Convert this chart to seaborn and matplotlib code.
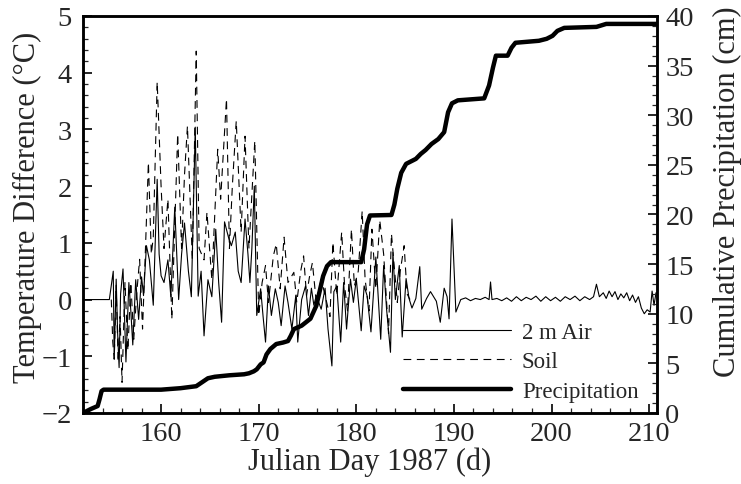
import numpy as np
import pandas as pd
import matplotlib
matplotlib.use('Agg')
import matplotlib.pyplot as plt
from matplotlib.ticker import MultipleLocator
import seaborn as sns


# 2 m air temperature difference (day, deg C)
air_day = [152.0, 154.7, 155.1, 155.2, 155.4, 155.55, 155.7, 155.85, 156.1, 156.4,
           156.7, 156.9, 157.1, 157.4, 157.7, 158.0, 158.2, 158.5, 158.8, 159.2,
           159.6, 159.8, 160.0, 160.3, 160.7, 161.0, 161.4, 161.8, 162.1, 162.4,
           162.8, 163.1, 163.5, 163.8, 164.1, 164.4, 164.8, 165.2, 165.6, 165.9,
           166.2, 166.5, 166.9, 167.2, 167.6, 167.9, 168.2, 168.6, 168.9, 169.1,
           169.3, 169.55, 169.8, 170.2, 170.45, 170.7, 171.0, 171.3, 171.7, 172.0,
           172.3, 172.7, 173.0, 173.4, 173.8, 174.0, 174.4, 174.8, 175.1, 175.4,
           175.65, 175.9, 176.4, 176.8, 177.1, 177.5, 177.7, 178.0, 178.4, 178.7,
           179.0, 179.4, 179.7, 180.0, 180.5, 180.8, 181.1, 181.5, 182.0, 182.5,
           182.8, 183.1, 183.5, 183.75, 184.0, 184.4, 184.7, 185.1, 185.4, 185.7,
           186.1, 186.5, 186.7, 187.2, 187.6, 188.2, 188.6, 189.0, 189.3, 189.5,
           189.8, 190.2, 190.7, 191.2, 191.7, 192.2, 192.7, 193.2, 193.6, 193.75,
           193.9, 194.4, 194.9, 195.4, 195.9, 196.4, 196.9, 197.4, 197.9, 198.4,
           198.9, 199.4, 199.9, 200.4, 200.9, 201.4, 201.9, 202.4, 202.9, 203.4,
           203.9, 204.3, 204.6, 204.9, 205.3, 205.6, 205.9, 206.2, 206.5, 206.8,
           207.1, 207.4, 207.7, 208.0, 208.3, 208.6, 208.9, 209.2, 209.5, 209.8,
           210.1, 210.3, 210.5, 210.7, 211.0]
air_temp = [0.0, 0.0, 0.5, -1.05, 0.36, -0.6, -1.2, 0.1, 0.54, -1.1,
            0.3, -0.2, -0.8, 0.35, -0.35, 0.4, 0.07, 0.95, 0.7, -0.1,
            2.12, 0.8, 0.42, 0.3, 0.7, 0.05, 1.63, 0.0, 0.8, 1.35,
            0.5, 0.05, 3.04, 0.06, 0.5, -0.64, 0.35, 0.05, 1.24, 0.3,
            -0.4, 1.37, 1.1, 0.95, 1.19, 0.5, 0.3, 1.42, 0.8, 0.3,
            0.9, 2.0, -0.28, 0.19, -0.3, -0.75, 0.24, -0.28, 0.19, -0.05,
            -0.46, 0.24, -0.05, -0.52, 0.07, -0.75, 0.0, 0.24, -0.28, 0.2,
            -0.1, 0.07, -0.17, 0.2, -0.52, -1.17, 0.14, 0.24, -0.75, 0.3,
            -0.52, 0.36, -0.05, 0.36, -0.55, 0.24, 0.07, -0.57, 0.75, -0.7,
            0.6, -0.17, -0.93, 0.83, 0.0, 0.6, -0.66, 0.37, 0.02, -0.15,
            0.02, 0.58, -0.17, 0.02, 0.14, -0.03, -0.4, 0.2, 0.05, -0.34,
            1.42, -0.22, 0.0, 0.03, -0.02, 0.02, 0.0, 0.04, 0.0, 0.31,
            0.0, 0.02, -0.02, 0.03, -0.03, 0.05, -0.02, 0.04, 0.0, 0.06,
            -0.03, 0.05, -0.02, 0.04, -0.03, 0.05, 0.0, 0.06, -0.02, 0.05,
            0.0, 0.05, 0.27, 0.05, 0.12, 0.02, 0.15, 0.05, 0.14, 0.0,
            0.1, 0.03, 0.12, -0.02, 0.08, -0.05, 0.05, -0.15, -0.25, -0.18,
            -0.22, 0.15, -0.1, 0.12, 0.1]

# soil temperature difference (day, deg C)
soil_day = [154.9, 155.05, 155.2, 155.4, 155.6, 155.8, 156.0, 156.3, 156.6, 156.9,
            157.2, 157.5, 157.8, 158.1, 158.4, 158.7, 159.0, 159.2, 159.6, 160.0,
            160.3, 160.7, 161.1, 161.7, 162.1, 162.4, 162.7, 163.2, 163.6, 163.9,
            164.4, 164.7, 165.2, 165.8, 166.1, 166.7, 167.0, 167.3, 167.7, 168.2,
            168.6, 169.0, 169.6, 170.0, 170.35, 170.7, 171.0, 171.5, 171.8, 172.2,
            172.6, 173.0, 173.6, 173.9, 174.3, 174.6, 174.9, 175.2, 175.5, 175.9,
            176.4, 176.9, 177.3, 177.6, 178.0, 178.5, 178.8, 179.1, 179.5, 179.8,
            180.2, 180.6, 180.9, 181.3, 181.6, 182.0, 182.4, 182.8, 183.3, 183.6,
            184.2, 184.5, 184.9, 185.2, 185.5]
soil_temp = [0.0, -0.75, -1.05, 0.25, -1.1, -0.3, -1.46, 0.3, -0.9, 0.3,
             -0.7, 0.1, 0.71, -0.52, 0.9, 2.42, 0.8, 1.1, 3.84, 2.0,
             0.9, 1.77, -0.35, 2.92, 0.9, 2.2, 3.06, 0.7, 4.38, 0.9,
             0.7, 1.54, 0.35, 2.65, 1.77, 3.54, 0.9, 2.0, 3.15, 1.19,
             2.88, 0.9, 2.8, -0.28, 0.3, 0.6, -0.05, 0.77, 0.98, 0.19,
             1.1, 0.3, 0.48, -0.05, 0.5, 0.77, 0.07, 0.4, 0.65, -0.05,
             0.36, 0.0, -0.3, 1.01, 0.07, 1.19, 0.24, -0.2, 1.24, 0.24,
             0.5, 1.56, 0.36, -0.2, 1.24, 0.19, 1.4, 0.8, -0.6, 1.16,
             -0.05, 0.5, 0.95, 0.1, 0.0]

# cumulative precipitation (day, cm)
precip_day = [152.0, 152.8, 153.5, 153.7, 153.9, 154.1, 160.0, 162.0, 163.6, 164.2,
              164.8, 165.5, 167.0, 168.5, 169.0, 169.5, 169.8, 170.2, 170.5, 170.8,
              171.2, 171.8, 172.5, 173.0, 173.3, 173.6, 174.4, 175.3, 175.9, 176.3,
              176.6, 177.0, 177.4, 180.5, 180.8, 181.1, 181.4, 183.6, 183.9, 184.2,
              184.6, 185.1, 186.1, 186.6, 187.1, 187.7, 188.4, 189.0, 189.4, 189.8,
              190.4, 193.1, 193.6, 194.0, 194.3, 195.5, 195.9, 196.3, 198.7, 199.5,
              200.1, 200.6, 201.3, 204.6, 205.6, 211.0]
precip_cm = [0.0, 0.4, 0.7, 1.4, 2.2, 2.35, 2.35, 2.5, 2.7, 3.1,
             3.5, 3.65, 3.8, 3.9, 4.0, 4.2, 4.4, 4.9, 5.1, 5.9,
             6.45, 6.95, 7.1, 7.25, 7.8, 8.45, 8.8, 9.5, 10.8, 12.5,
             13.8, 14.8, 15.2, 15.2, 16.5, 19.0, 19.9, 19.95, 21.0, 22.6,
             24.2, 25.1, 25.6, 26.1, 26.5, 27.1, 27.6, 28.3, 30.3, 31.2,
             31.5, 31.7, 33.0, 34.8, 36.0, 36.0, 36.8, 37.3, 37.5, 37.7,
             38.0, 38.5, 38.8, 38.9, 39.2, 39.2]

df_air = pd.DataFrame({'day': air_day, 'value': air_temp})
df_soil = pd.DataFrame({'day': soil_day, 'value': soil_temp})
df_prec = pd.DataFrame({'day': precip_day, 'value': precip_cm})

sns.set_style('ticks')
plt.rcParams['font.family'] = ['Liberation Serif', 'DejaVu Serif']

fig = plt.figure(figsize=(7.41, 4.85), dpi=100)
ax = fig.add_axes([0.112, 0.1464, 0.7746, 0.8186])
ax2 = ax.twinx()

sns.lineplot(data=df_air, x='day', y='value', ax=ax, color='black', lw=0.8,
             estimator=None, label='2 m Air')
sns.lineplot(data=df_soil, x='day', y='value', ax=ax, color='black', lw=0.8,
             ls=(0, (7, 5)), estimator=None, label='Soil')
sns.lineplot(data=df_prec, x='day', y='value', ax=ax2, color='black', lw=3.2,
             estimator=None, label='Precipitation')

ax.set_xlim(152, 210.8)
ax.set_ylim(-2, 5)
ax2.set_ylim(0, 40)

ax.xaxis.set_major_locator(MultipleLocator(10))
ax.xaxis.set_minor_locator(MultipleLocator(2))
ax.yaxis.set_major_locator(MultipleLocator(1))
ax.yaxis.set_minor_locator(MultipleLocator(0.2))
ax2.yaxis.set_major_locator(MultipleLocator(5))
ax2.yaxis.set_minor_locator(MultipleLocator(1))

for a in (ax, ax2):
    a.tick_params(which='major', direction='in', length=6.5, width=1.4, labelsize=20.5)
    a.tick_params(which='minor', direction='in', length=3.6, width=0.9)
    for s in a.spines.values():
        s.set_linewidth(1.8)
        s.set_color('black')
ax.tick_params(axis='y', which='both', right=False, pad=8)
ax.tick_params(axis='x', which='both', top=False, pad=6)
ax2.tick_params(axis='y', which='both', left=False, pad=6)

ax.set_xlabel('Julian Day 1987 (d)', fontsize=22, labelpad=0)
ax.set_ylabel('Temperature Difference (°C)', fontsize=22)
ax2.set_ylabel('Cumulative Precipitation (cm)', fontsize=22)
ax.yaxis.set_label_coords(-0.072, 0.52)
ax2.yaxis.set_label_coords(1.098, 0.56)

h1, l1 = ax.get_legend_handles_labels()
h2, l2 = ax2.get_legend_handles_labels()
if ax.get_legend() is not None:
    ax.get_legend().remove()
ax2.legend(h1 + h2, l1 + l2, loc='lower right', bbox_to_anchor=(0.988, 0.0),
           frameon=False, fontsize=16.5, handlelength=4.7, labelspacing=0.36,
           handletextpad=0.5, borderaxespad=0.1)

fig.savefig('out.png', dpi=100)
